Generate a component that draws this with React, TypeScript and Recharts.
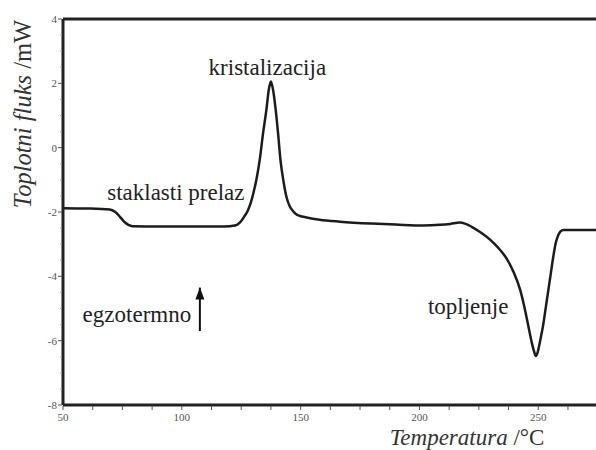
import React from 'react';
import { LineChart, Line, XAxis, YAxis, ReferenceLine, ReferenceDot, Label } from 'recharts';

const temperature = [
  50, 60, 69.7, 72, 74, 76, 77.5, 79.3, 90, 105, 118, 122.3, 124.5, 126.2, 127.8, 129, 130, 131.5,
  132.8, 134.2, 135.6, 136.6, 137.5, 138.5, 139.5, 140.5, 141.5, 142.8, 144.1, 145.4, 146.7, 148,
  149.6, 152.5, 158, 166.5, 180, 190, 201.5, 208.6, 213, 217, 219.1, 222, 225.5, 229.6, 233, 236.7,
  239.5, 242.3, 244, 245.7, 247.4, 248.3, 249, 249.8, 250.8, 252.1, 253.2, 254.2, 255.3, 256.3,
  257.4, 258.4, 259.4, 260.5, 265, 274.3,
];
const heatFlow = [
  -1.88, -1.89, -1.92, -2.0, -2.15, -2.32, -2.4, -2.44, -2.45, -2.45, -2.45, -2.42, -2.32, -2.15,
  -1.95, -1.72, -1.45, -0.95, -0.37, 0.45, 1.18, 1.8, 2.06, 1.75, 1.18, 0.45, -0.37, -1.05, -1.55,
  -1.82, -1.96, -2.06, -2.12, -2.17, -2.24, -2.3, -2.36, -2.39, -2.42, -2.4, -2.37, -2.33, -2.36,
  -2.46, -2.62, -2.85, -3.1, -3.45, -3.85, -4.4, -4.9, -5.5, -6.1, -6.35, -6.48, -6.35, -6.0, -5.5,
  -4.95, -4.45, -3.9, -3.4, -2.95, -2.72, -2.6, -2.56, -2.56, -2.56,
];

const xMajorTicks = [50, 100, 150, 200, 250];
const xTicks = [50, 62.5, 75, 87.5, 100, 112.5, 125, 137.5, 150, 162.5, 175, 187.5, 200, 212.5, 225, 237.5, 250, 262.5];
const yMajorTicks = [-8, -6, -4, -2, 0, 2, 4];
const yTicks = [-8, -7.5, -7, -6.5, -6, -5.5, -5, -4.5, -4, -3.5, -3, -2.5, -2, -1.5, -1, -0.5, 0, 0.5, 1, 1.5, 2, 2.5, 3, 3.5, 4];

const annotations = [
  { text: 'kristalizacija', x: 136, y: 2.26 },
  { text: 'staklasti prelaz', x: 97.5, y: -1.63 },
  { text: 'egzotermno', x: 81.1, y: -5.43 },
  { text: 'topljenje', x: 220.5, y: -5.18 },
];
const arrowX = 107.6;
const arrowFrom = -5.7;
const arrowTip = -4.35;

const data = temperature.map((t, i) => ({ t, q: heatFlow[i] }));

const FONT = '"Liberation Serif", "Times New Roman", serif';

const XTick = (props: any) => {
  const { x, y, payload } = props;
  const v = payload.value;
  const major = xMajorTicks.includes(v);
  const axisY = y - 6;
  return (
    <g>
      <line x1={x} x2={x} y1={axisY + 1} y2={axisY + 5} stroke="#555" strokeWidth={1} />
      {major && (
        <text x={x} y={axisY + 16} textAnchor="middle" fontFamily={FONT} fontSize={11} fill="#555">
          {v}
        </text>
      )}
    </g>
  );
};

const YTick = (props: any) => {
  const { x, y, payload } = props;
  const v = payload.value;
  const major = yMajorTicks.includes(v);
  const axisX = x + 6;
  return (
    <g>
      <line x1={axisX - (major ? 5 : 3)} x2={axisX - 1} y1={y} y2={y} stroke={major ? '#555' : '#aaa'} strokeWidth={1} />
      {major && (
        <text x={axisX - 6} y={y + 4} textAnchor="end" fontFamily={FONT} fontSize={11} fill="#555">
          {v}
        </text>
      )}
    </g>
  );
};

export default function App() {
  return (
    <div style={{ position: 'absolute', left: 0, top: 0, width: 596, height: 450, overflow: 'hidden', background: '#fff' }}>
      <LineChart width={596} height={450} data={data} margin={{ top: 19, right: 0, bottom: 14, left: 0 }}>
        <XAxis
          dataKey="t"
          type="number"
          domain={[50, 274.3]}
          ticks={xTicks}
          interval={0}
          allowDataOverflow
          tick={<XTick />}
          tickLine={false}
          tickSize={4}
          tickMargin={2}
          axisLine={{ stroke: '#222', strokeWidth: 3 }}
          height={31}
        >
          <Label
            content={() => (
              <text x={467} y={445} textAnchor="middle" fontFamily={FONT} fontSize={23} fill="#333">
                <tspan fontStyle="italic" fill="#333">Temperatura</tspan>
                <tspan fill="#333"> /°C</tspan>
              </text>
            )}
          />
        </XAxis>
        <YAxis
          type="number"
          domain={[-8, 4]}
          ticks={yTicks}
          interval={0}
          allowDataOverflow
          tick={<YTick />}
          tickLine={false}
          tickSize={4}
          tickMargin={2}
          axisLine={{ stroke: '#222', strokeWidth: 3 }}
          width={63}
        >
          <Label
            content={() => (
              <text transform="translate(31,114) rotate(-90)" textAnchor="middle" fontFamily={FONT} fontSize={24.5} fill="#333">
                <tspan fontStyle="italic" fill="#333">Toplotni fluks</tspan>
                <tspan fill="#333"> /mW</tspan>
              </text>
            )}
          />
        </YAxis>
        <ReferenceLine y={4} stroke="#222" strokeWidth={3} />
        <Line type="monotone" dataKey="q" stroke="#1c1c1c" strokeWidth={2.5} dot={false} isAnimationActive={false} />
        {annotations.map((a) => (
          <ReferenceDot
            key={a.text}
            x={a.x}
            y={a.y}
            r={0}
            shape={(p: any) => (
              <text x={p.cx} y={p.cy} textAnchor="middle" fontFamily={FONT} fontSize={23} fill="#222">
                {a.text}
              </text>
            )}
          />
        ))}
        <ReferenceLine
          segment={[{ x: arrowX, y: arrowFrom }, { x: arrowX, y: arrowTip }]}
          stroke="#111"
          strokeWidth={2}
        />
        <ReferenceDot
          x={arrowX}
          y={arrowTip}
          r={0}
          shape={(p: any) => (
            <polygon points={`${p.cx},${p.cy} ${p.cx - 4.5},${p.cy + 12} ${p.cx + 4.5},${p.cy + 12}`} fill="#111" />
          )}
        />
      </LineChart>
    </div>
  );
}
